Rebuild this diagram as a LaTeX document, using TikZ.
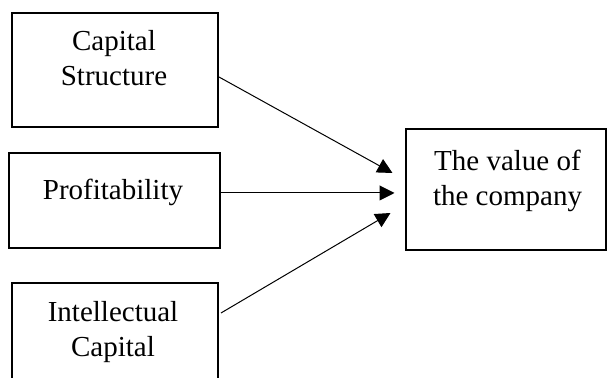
\documentclass[tikz,border=0pt]{standalone}
\usepackage{fontspec}
\setmainfont{Liberation Serif}
\usetikzlibrary{arrows.meta}

\begin{document}
\begin{tikzpicture}[
  x=0.5pt, y=-0.5pt,
  >={Triangle[length=7.5pt,width=7.5pt]},
  mybox/.style={draw, line width=1pt, inner sep=0pt},
  mytext/.style={align=center, inner sep=0pt, anchor=base,
    font=\fontsize{14.5}{17.25}\selectfont},
  myarrow/.style={->, line width=0.5pt}
]

\clip (0,0) rectangle (607,378);

% the four boxes
\node [mybox, minimum width=103pt, minimum height=57pt] (capbox) at (115,70) {};
\node [mybox, minimum width=105.5pt, minimum height=47.5pt] (profbox) at (114.5,200.5) {};
\node [mybox, minimum width=103pt, minimum height=57pt] (intbox) at (115,340) {};
\node [mybox, minimum width=100pt, minimum height=60.5pt] (valbox) at (505.5,189.5) {};

% texts, baseline of the last line given
\node [mytext] (captext) at (114,85.5) {Capital\\Structure};
\node [mytext] (proftext) at (113,200) {Profitability};
\node [mytext] (inttext) at (113,356.5) {Intellectual\\Capital};
\node [mytext] (valtext) at (507.5,205.5) {The value of\\the company};

% arrows into the value box
\draw [myarrow] ([yshift=-3.5pt]capbox.east) -- ([xshift=-6pt,yshift=8.25pt]valbox.west);
\draw [myarrow] ([yshift=3.75pt]profbox.east) -- ([xshift=-5pt,yshift=-1.75pt]valbox.west);
\draw [myarrow] ([xshift=1pt,yshift=13.5pt]intbox.east) -- ([xshift=-7pt,yshift=-11.75pt]valbox.west);

\end{tikzpicture}
\end{document}
